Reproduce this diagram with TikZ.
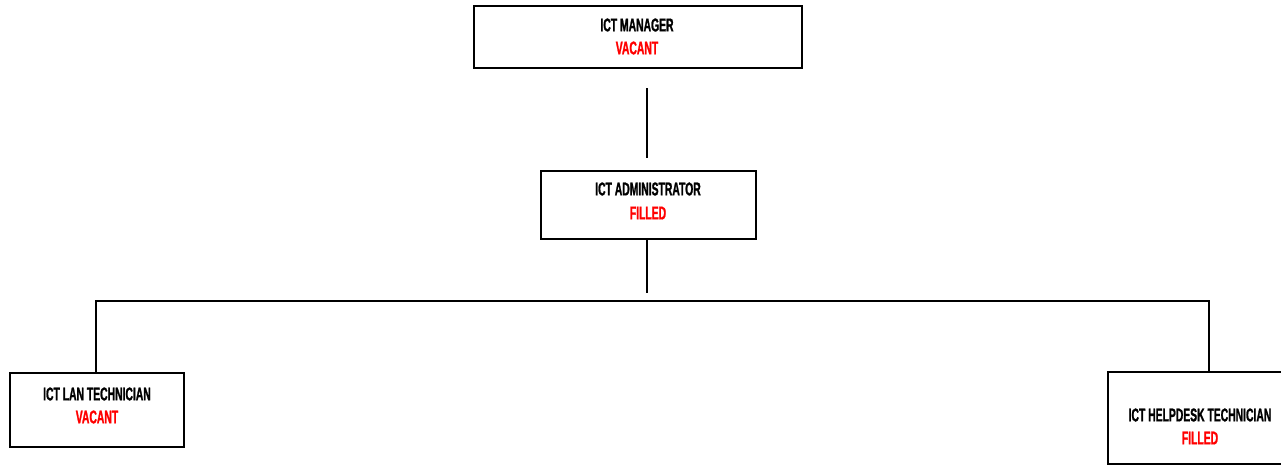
\documentclass[tikz,border=0pt]{standalone}
\usepackage{fontspec}
\newfontfamily\agency{Liberation Sans}[FakeStretch=0.56,BoldFeatures={FakeBold=1.2}]
\definecolor{vacred}{RGB}{255,0,0}
\begin{document}
\begin{tikzpicture}[x=1pt,y=-1pt,
  post/.style={draw=black,line width=1.3pt,fill=white,inner sep=0pt},
  conn/.style={draw=black,line width=1.3pt},
  ttl/.style={font=\agency\bfseries\fontsize{18.5}{18.5}\selectfont,text=black},
  stat/.style={font=\agency\bfseries\fontsize{18.5}{18.5}\selectfont,text=vacred}]
\useasboundingbox (0,0) rectangle (1281,464);
\clip (0,0) rectangle (1281,464);
% boxes
\node[post,minimum width=328pt,minimum height=62pt] (mgr) at (638,37) {};
\node[post,minimum width=215pt,minimum height=68pt] (adm) at (648.5,205) {};
\node[post,minimum width=174pt,minimum height=74pt] (lan) at (97,410) {};
\node[post,minimum width=184pt,minimum height=92pt] (hd) at (1200,418) {};
% texts
\node[ttl] (t1) at (637,25) {ICT MANAGER};
\node[stat] (s1) at (637,48) {VACANT};
\node[ttl] (t2) at (648,189) {ICT ADMINISTRATOR};
\node[stat] (s2) at (648,213) {FILLED};
\node[ttl] (t3) at (97,394) {ICT LAN TECHNICIAN};
\node[stat] (s3) at (97,417) {VACANT};
\node[ttl] (t4) at (1200,415) {ICT HELPDESK TECHNICIAN};
\node[stat] (s4) at (1200,438) {FILLED};
% connectors
\coordinate (a1) at (647,88);
\coordinate (a2) at (647,158);
\draw[conn] (a1) -- (a2);
\coordinate (b2) at (647,293);
\draw[conn] (adm.south -| b2) -- (b2);
\coordinate (hl) at (96,301);
\coordinate (hr) at (1209,301);
\draw[conn] (lan.north -| hl) -- (hl) -- (hr) -- (hd.north -| hr);
\end{tikzpicture}
\end{document}
